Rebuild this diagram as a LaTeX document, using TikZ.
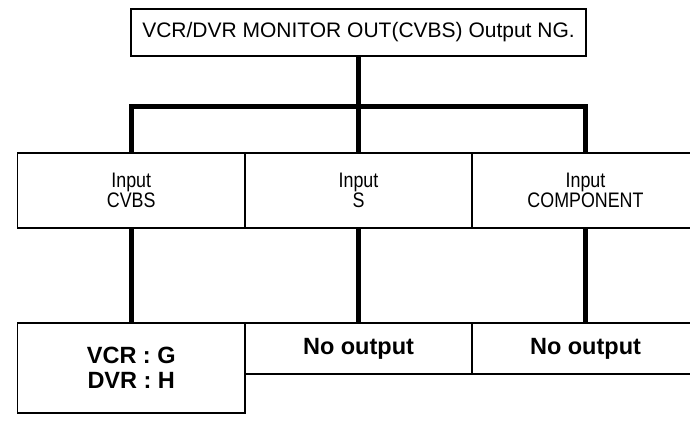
\documentclass[tikz,border=0pt]{standalone}
\usepackage{fontspec}
\setmainfont{Liberation Sans}
\newfontfamily\narrowfont[FakeStretch=0.85]{Liberation Sans}
\begin{document}
\begin{tikzpicture}[x=1pt,y=1pt,
  box/.style={draw, line width=1.5pt, rectangle, inner sep=0pt, outer sep=0pt, align=center},
  thick link/.style={line width=5.5pt, line join=miter, line cap=butt},
  toptext/.style={font=\fontsize{21}{24}\selectfont},
  midtext/.style={font=\narrowfont\fontsize{21}{20.5}\selectfont},
  bottext/.style={font=\fontsize{23.5}{25}\selectfont\bfseries}]
\clip (0,0) rectangle (690,-422);
\fill[white] (0,0) rectangle (690,-422);
% top
\node[box, toptext, minimum width=455pt, minimum height=47pt] (top) at (358.5,-32.5) {VCR/DVR MONITOR OUT(CVBS) Output NG.};
% middle row
\node[box, midtext, minimum width=227.5pt, minimum height=75pt] (in1) at (131.25,-190.5) {Input\\CVBS};
\node[box, midtext, minimum width=227pt, minimum height=75pt] (in2) at (358.5,-190.5) {Input\\S};
\node[box, midtext, minimum width=227pt, minimum height=75pt] (in3) at (585.5,-190.5) {Input\\COMPONENT};
% bottom row
\node[box, bottext, minimum width=227.5pt, minimum height=90pt] (out1) at (131.25,-368) {VCR : G\\DVR : H};
\node[box, bottext, minimum width=227pt, minimum height=51pt] (out2) at (358.5,-348.5) {No output};
\node[box, bottext, minimum width=227pt, minimum height=51pt] (out3) at (585.5,-348.5) {No output};
% connectors
\coordinate (bar) at (358.5,-106.5);
\draw[thick link] (top.south) -- (in2.north);
\draw[thick link] (in1.north) |- (bar) -| (in3.north);
\draw[thick link] (in1.south) -- (out1.north);
\draw[thick link] (in2.south) -- (out2.north);
\draw[thick link] (in3.south) -- (out3.north);
\end{tikzpicture}
\end{document}
